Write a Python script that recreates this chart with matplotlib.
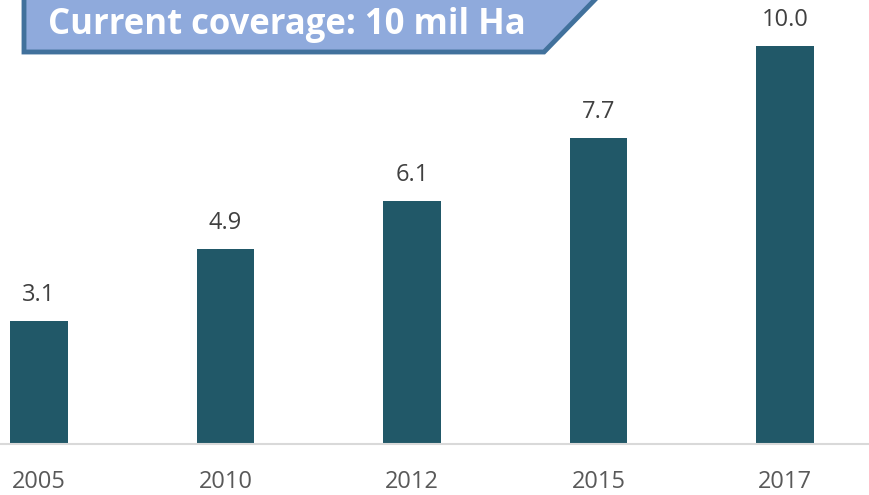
import matplotlib
matplotlib.use("Agg")
import matplotlib.pyplot as plt
from matplotlib.patches import Polygon

years = ["2005", "2010", "2012", "2015", "2017"]
coverage = [3.1, 4.9, 6.1, 7.7, 10.0]
title_text = "Current coverage: 10 mil Ha"

W, H = 869, 495
fig = plt.figure(figsize=(W / 100, H / 100), dpi=100)
ax = fig.add_axes([0, 1 - 444 / H, 1, 444 / H])

bar_color = "#215868"
x = list(range(len(years)))
ax.bar(x, coverage, width=0.31, color=bar_color, zorder=2)
for xi, v in zip(x, coverage):
    ax.annotate(f"{v:.1f}", (xi, v), xytext=(0, 10), textcoords="offset points",
                ha="center", va="bottom", fontsize=17, color="#404040",
                family=["Open Sans", "DejaVu Sans"])

ax.set_xlim(-0.209, 4.45)
ax.set_ylim(0, 11.16)
for s in ["top", "right", "left"]:
    ax.spines[s].set_visible(False)
ax.spines["bottom"].set_color("#D9D9D9")
ax.spines["bottom"].set_linewidth(1.5)
ax.set_yticks([])
ax.set_xticks(x)
ax.set_xticklabels(years, fontsize=17, color="#595959", family=["Open Sans", "DejaVu Sans"])
ax.tick_params(axis="x", length=0, pad=19)

# title banner
def fp(px, py):
    return (px / W, 1 - py / H)

poly = Polygon([fp(24, -20), fp(24, 52), fp(544, 52), fp(614, -20)],
               closed=True, transform=fig.transFigure, facecolor="#8FAADC",
               edgecolor="#41719C", linewidth=3.5, zorder=5)
fig.patches.append(poly)
fig.text(287 / W, 1 - 25 / H, title_text, ha="center", va="center",
         fontsize=25, fontweight="bold", color="white",
         family=["Open Sans", "DejaVu Sans"], zorder=6)

fig.savefig("out.png", dpi=100)
